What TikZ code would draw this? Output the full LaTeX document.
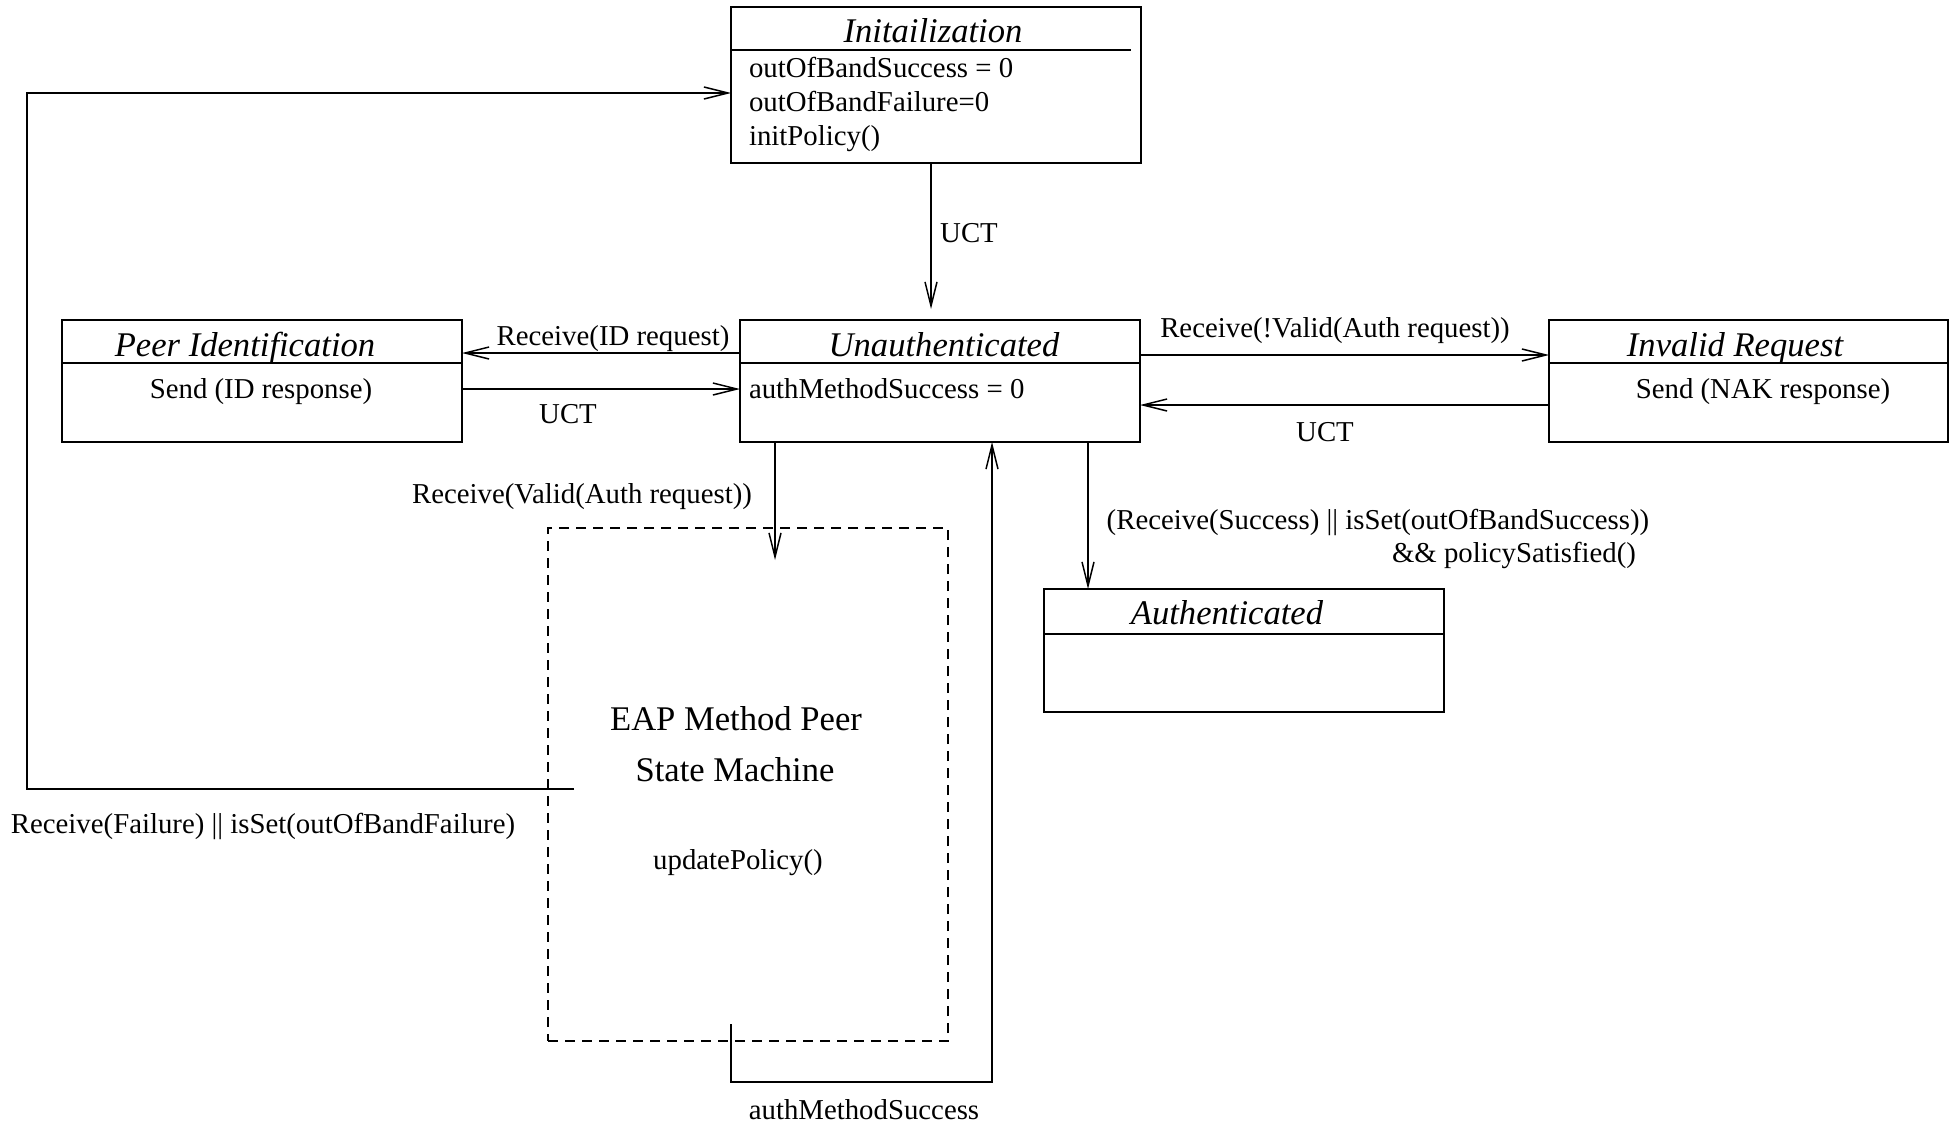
\documentclass[tikz,border=0pt]{standalone}
\usepackage{fontspec}
\setmainfont{Liberation Serif}
\usetikzlibrary{arrows.meta,calc}
\begin{document}
\begin{tikzpicture}[x=0.5pt,y=-0.5pt,
  every node/.style={inner sep=0pt, outer sep=0pt},
  lw/.style={line width=0.75pt},
  statebox/.style={draw, lw, rectangle, anchor=north west},
  ttl/.style={anchor=base, font=\fontsize{17.3}{20}\selectfont\itshape},
  txt/.style={anchor=base, font=\fontsize{14.4}{17}\selectfont},
  txtl/.style={anchor=base west, font=\fontsize{14.4}{17}\selectfont},
  big/.style={anchor=base, font=\fontsize{17.3}{20}\selectfont},
  arr/.style={lw, -{Straight Barb[length=12pt,width=6pt]}},
  dashbox/.style={draw, lw, dash pattern=on 5pt off 3.5pt, anchor=north west},
]
\useasboundingbox (0,0) rectangle (1954,1124);

% state boxes
\node[statebox, minimum width=205pt, minimum height=78pt] (init) at (731,7) {};
\node[statebox, minimum width=200pt, minimum height=61pt] (peer) at (62,320) {};
\node[statebox, minimum width=200pt, minimum height=61pt] (unauth) at (740,320) {};
\node[statebox, minimum width=199.5pt, minimum height=61pt] (invalid) at (1549,320) {};
\node[statebox, minimum width=200pt, minimum height=61.5pt] (authd) at (1044,589) {};
\node[dashbox, minimum width=200pt, minimum height=256.5pt] (dashed) at (548,528) {};

% separators
\draw[lw] ($(init.north west)+(0,43)$) -- ($(init.north east)+(-10,43)$);
\draw[lw] ($(peer.north west)+(0,43)$) -- ($(peer.north east)+(0,43)$);
\draw[lw] ($(unauth.north west)+(0,43)$) -- ($(unauth.north east)+(0,43)$);
\draw[lw] ($(invalid.north west)+(0,43)$) -- ($(invalid.north east)+(0,43)$);
\draw[lw] ($(authd.north west)+(0,45)$) -- ($(authd.north east)+(0,45)$);

% box texts
\node[ttl] (initT) at (933,42) {Initailization};
\node[txtl] (initA) at (749,77) {outOfBandSuccess = 0};
\node[txtl] (initB) at (749,111) {outOfBandFailure=0};
\node[txtl] (initC) at (749,145) {initPolicy()};
\node[ttl] (peerT) at (245,356) {Peer Identification};
\node[txt] (peerA) at (261,398) {Send (ID response)};
\node[ttl] (unauthT) at (944,356) {Unauthenticated};
\node[txtl] (unauthA) at (749,398) {authMethodSuccess = 0};
\node[ttl] (invT) at (1735,356) {Invalid Request};
\node[txt] (invA) at (1763,398) {Send (NAK response)};
\node[ttl] (authT) at (1227,624) {Authenticated};
\node[big] (eap1) at (736,730) {EAP Method Peer};
\node[big] (eap2) at (735,781) {State Machine};
\node[txt] (eap3) at (738,869) {updatePolicy()};

% connectors
\draw[arr] ($(init.south)+(-5,0)$) -- ($(init.south |- unauth.north)+(-5,-11)$);
\draw[arr] ($(unauth.west)+(0,-28)$) -- ($(peer.east)+(0,-28)$);
\draw[arr] ($(peer.east)+(0,8)$) -- ($(unauth.west)+(0,8)$);
\draw[arr] ($(unauth.east)+(0,-26)$) -- ($(invalid.west)+(0,-26)$);
\draw[arr] ($(invalid.west)+(0,24)$) -- ($(unauth.east)+(0,24)$);
\draw[arr] ($(unauth.south)+(-165,0)$) -- ($(dashed.north)+(27,32)$);
\coordinate (ua) at ($(unauth.south)+(148,0)$);
\draw[arr] (ua) -- (ua |- authd.north);
\coordinate (ms) at ($(dashed.south)+(-17,-17)$);
\coordinate (mc) at ($(dashed.south)+(-17,41)$);
\draw[arr] (ms) -- (mc) -| ($(unauth.south)+(52,0)$);
\coordinate (fs) at ($(dashed.west)+(26,4.5)$);
\coordinate (fl) at (27,789);
\draw[arr] (fs) -- (fl) |- ($(init.west)+(0,8)$);

% labels
\node[txt] (l1) at (969,242) {UCT};
\node[txt] (l2) at (613,345) {Receive(ID request)};
\node[txt] (l3) at (568,423) {UCT};
\node[txt] (l4) at (1335,337) {Receive(!Valid(Auth request))};
\node[txt] (l5) at (1325,441) {UCT};
\node[txt] (l6) at (582,503) {Receive(Valid(Auth request))};
\node[txt] (l7) at (1378,529) {(Receive(Success) || isSet(outOfBandSuccess))};
\node[txt] (l8) at (1514,562) {\&\& policySatisfied()};
\node[txt] (l9) at (263,833) {Receive(Failure) || isSet(outOfBandFailure)};
\node[txt] (l10) at (864,1119) {authMethodSuccess};
\end{tikzpicture}
\end{document}
